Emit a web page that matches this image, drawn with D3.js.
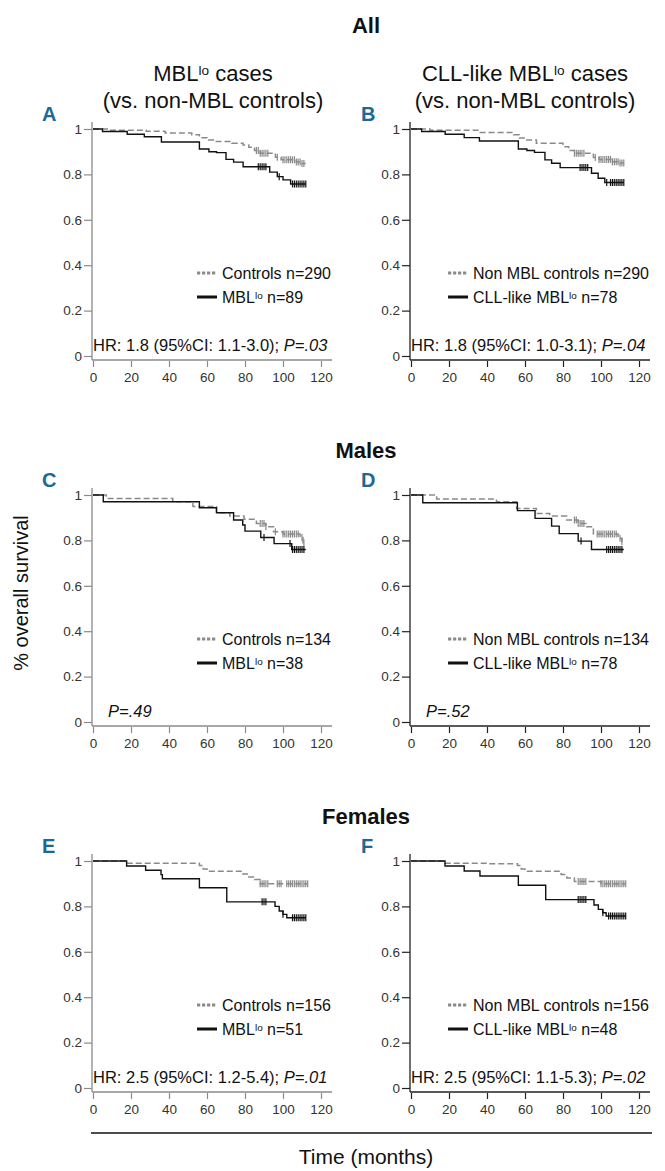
<!DOCTYPE html>
<html><head><meta charset="utf-8">
<script src="https://cdn.jsdelivr.net/npm/d3@7"></script>
<style>
body{margin:0;background:#fff}
svg{display:block}
text{font-family:"Liberation Sans",Arial,sans-serif}
</style>
</head><body>
<svg id="chart" width="665" height="1171"></svg>
<script>
// ---------- data ----------
const timeTicks = [0, 20, 40, 60, 80, 100, 120];
const survTicks = [0, 0.2, 0.4, 0.6, 0.8, 1];
const panelLetters = ["A", "B", "C", "D", "E", "F"];
const groupTitles = ["All", "Males", "Females"];
const columnTitles = [["MBL^lo cases", "(vs. non-MBL controls)"], ["CLL-like MBL^lo cases", "(vs. non-MBL controls)"]];
const ctrlLegend = ["Controls n=290", "Non MBL controls n=290", "Controls n=134", "Non MBL controls n=134", "Controls n=156", "Non MBL controls n=156"];
const caseLegend = ["MBL^lo n=89", "CLL-like MBL^lo n=78", "MBL^lo n=38", "CLL-like MBL^lo n=78", "MBL^lo n=51", "CLL-like MBL^lo n=48"];
const statPlain = ["HR: 1.8 (95%CI: 1.1-3.0); ", "HR: 1.8 (95%CI: 1.0-3.1); ", "", "", "HR: 2.5 (95%CI: 1.2-5.4); ", "HR: 2.5 (95%CI: 1.1-5.3); "];
const statItalic = ["P=.03", "P=.04", "P=.49", "P=.52", "P=.01", "P=.02"];
const yAxisTitle = "% overall survival";
const xAxisTitle = "Time (months)";

// survival steps [time, survival]
const caseA = [[0,1],[5,0.989],[18,0.977],[27,0.966],[36,0.943],[56,0.912],[61,0.900],[65,0.896],[70,0.866],[74,0.854],[79,0.834],[93,0.81],[97,0.79],[100,0.776],[104,0.758],[112,0.758]];
const ctrlA = [[0,1],[8,0.995],[28,0.99],[38,0.982],[52,0.975],[56,0.962],[60,0.952],[64,0.945],[73,0.937],[79,0.93],[82,0.92],[85,0.905],[88,0.893],[96,0.876],[99,0.864],[107,0.855],[110,0.848],[112,0.848]];
const caseB = [[0,1],[5.6,0.989],[18,0.977],[28,0.962],[36,0.947],[56.5,0.912],[61,0.905],[65,0.897],[70.5,0.864],[74,0.849],[78.5,0.83],[95,0.805],[98.5,0.783],[102,0.764],[112,0.764]];
const ctrlB = [[0,1],[10,0.994],[36,0.985],[54,0.975],[57,0.96],[60,0.952],[66,0.937],[80,0.922],[83,0.905],[86,0.893],[96,0.875],[99,0.866],[106,0.856],[110,0.85],[112,0.85]];
const caseC = [[0,1],[5.4,0.97],[56,0.944],[65,0.922],[74,0.89],[78.8,0.868],[80,0.841],[88.3,0.813],[95.3,0.786],[104.6,0.76],[112,0.76]];
const ctrlC = [[0,1],[7,0.985],[42,0.97],[52.6,0.949],[65,0.922],[72,0.907],[79.5,0.893],[86,0.875],[91,0.86],[95,0.838],[100,0.828],[109,0.813],[110.5,0.79],[112,0.79]];
const caseD = [[0,1],[6.2,0.966],[56,0.931],[65.3,0.897],[74,0.863],[78,0.83],[88,0.797],[95,0.76],[112,0.76]];
const ctrlD = [[0,1],[13.5,0.982],[45,0.97],[55.6,0.941],[66,0.919],[73,0.907],[82,0.89],[88,0.875],[92.5,0.86],[96,0.828],[109,0.81],[111,0.795],[112,0.795]];
const caseE = [[0,1],[17.7,0.978],[27.7,0.959],[35.8,0.94],[36.5,0.922],[56,0.882],[70.4,0.82],[95.8,0.80],[98,0.78],[100,0.765],[102,0.75],[112,0.75]];
const ctrlE = [[0,1],[17.7,0.99],[56,0.98],[58,0.965],[60,0.955],[79,0.943],[82,0.93],[85,0.918],[88,0.9],[113,0.9]];
const caseF = [[0,1],[17.9,0.978],[28,0.956],[36.3,0.934],[56.5,0.893],[70.9,0.83],[96.3,0.806],[98.6,0.787],[100.9,0.772],[102.7,0.758],[113,0.758]];
const ctrlF = [[0,1],[17.9,0.99],[40,0.988],[56,0.98],[58,0.965],[60,0.955],[79,0.94],[82,0.925],[86,0.91],[100,0.9],[113,0.9]];

// censoring times
const caseCensA = [87,88,89,90,91,98,105,106,107,108,109,110,111,112];
const ctrlCensA = [86,87,88,89,90,91,92,97,100,101,102,103,104,105,106,107,108,109,110,111];
const caseCensB = [89,90,91,92,93,103,105,106,107,108,109,110,111,112];
const ctrlCensB = [86,87,88,89,90,91,97,99,100,101,102,103,104,105,106,107,108,109,110,111,112];
const caseCensC = [90,103.7,105,106,107,108,109,110,111];
const ctrlCensC = [88,89,90,91,96,100,101,102,103,104,105,106,107,108,110,111];
const caseCensD = [89.5,103,104,105,106,107,108,109,110,111];
const ctrlCensD = [86,87,88,89,90,91,98,99,100,101,102,103,104,105,106,107,108,110,111];
const caseCensE = [89,90,91,100,105,106,107,108,109,110,111,112];
const ctrlCensE = [88,89,90,91,92,97,98,99,102,103,104,105,106,107,108,109,110,111,112,113];
const caseCensF = [88,89,90,91,92,101,104,105,106,107,108,109,110,111,112,113];
const ctrlCensF = [88,89,90,91,92,100,101,102,103,104,105,106,107,108,109,110,111,112,113];

const panelCase = [caseA, caseB, caseC, caseD, caseE, caseF];
const panelCtrl = [ctrlA, ctrlB, ctrlC, ctrlD, ctrlE, ctrlF];
const panelCaseCens = [caseCensA, caseCensB, caseCensC, caseCensD, caseCensE, caseCensF];
const panelCtrlCens = [ctrlCensA, ctrlCensB, ctrlCensC, ctrlCensD, ctrlCensE, ctrlCensF];

// ---------- layout ----------
const colX0 = [93, 411];
const plotW = 228;
const rowY1 = [129, 495, 861];
const plotH = 227;
const groupTitleY = [33, 458, 824];
const colCenter = [213, 525];
const letterColor = "#1d6896";
const grayLine = "#8a8a8a";
const axisColors = ["#8a8a8a", "#222"];

const svg = d3.select("#chart");

function rich(sel, str) {
  const parts = str.split(/\^(\w+)/);
  parts.forEach((p, i) => {
    if (!p) return;
    if (i % 2 === 1) {
      sel.append("tspan").attr("font-size", "62%").attr("dy", "-0.45em").text(p);
    } else {
      const t = sel.append("tspan").text(p);
      if (i > 0) t.attr("dy", "0.28em");
    }
  });
  return sel;
}

function valueAt(steps, t) {
  let v = steps[0][1];
  for (const s of steps) { if (s[0] <= t) v = s[1]; }
  return v;
}

// group titles
groupTitles.forEach((g, r) => {
  svg.append("text").attr("x", 366).attr("y", groupTitleY[r])
    .attr("text-anchor", "middle").attr("font-size", 22).attr("font-weight", "bold")
    .attr("fill", "#111").text(g);
});
// column titles
columnTitles.forEach((ct, c) => {
  rich(svg.append("text").attr("x", colCenter[c]).attr("y", 81).attr("text-anchor", "middle")
    .attr("font-size", 22).attr("fill", "#111"), ct[0]);
  svg.append("text").attr("x", colCenter[c]).attr("y", 108).attr("text-anchor", "middle")
    .attr("font-size", 22).attr("fill", "#111").text(ct[1]);
});

for (let p = 0; p < 6; p++) {
  const r = Math.floor(p / 2), c = p % 2;
  const x0 = colX0[c], y1 = rowY1[r], y0 = y1 + plotH;
  const x = d3.scaleLinear().domain([0, 120]).range([x0, x0 + plotW]);
  const y = d3.scaleLinear().domain([0, 1]).range([y0, y1]);
  const ac = axisColors[c];
  const g = svg.append("g");

  // panel letter
  g.append("text").attr("x", c === 0 ? 42 : 361).attr("y", y1 - 8)
    .attr("font-family", "'Liberation Sans Narrow','DejaVu Sans Condensed',sans-serif")
    .attr("font-weight", "bold").attr("font-size", 20).attr("fill", letterColor).text(panelLetters[p]);

  // y axis
  const ya = g.append("g").attr("transform", `translate(${x0 - 1},0)`)
    .call(d3.axisLeft(y).tickValues(survTicks).tickFormat(d3.format("")).tickSize(8).tickPadding(2));
  ya.select(".domain").remove();
  ya.selectAll("line").attr("stroke", ac).attr("stroke-width", 1.2);
  ya.selectAll("text").attr("fill", "#333").attr("font-size", 13.5).attr("font-family", "'Liberation Sans',Arial,sans-serif");
  g.append("line").attr("x1", x0 - 1).attr("x2", x0 - 1).attr("y1", y1 - 7).attr("y2", y0 + 4)
    .attr("stroke", ac).attr("stroke-width", 1.3);

  // x axis
  const xa = g.append("g").attr("transform", `translate(0,${y0 + 5})`)
    .call(d3.axisBottom(x).tickValues(timeTicks).tickSize(6).tickPadding(5));
  xa.select(".domain").remove();
  xa.selectAll("line").attr("stroke", ac).attr("stroke-width", 1.2);
  xa.selectAll("text").attr("fill", "#333").attr("font-size", 13.5).attr("font-family", "'Liberation Sans',Arial,sans-serif");
  g.append("line").attr("x1", x0 - 1).attr("x2", x(120) + 11).attr("y1", y0 + 4).attr("y2", y0 + 4)
    .attr("stroke", ac).attr("stroke-width", 1.3);

  const line = d3.line().x(d => x(d[0])).y(d => y(d[1])).curve(d3.curveStepAfter);

  // controls
  g.append("path").datum(panelCtrl[p]).attr("d", line).attr("fill", "none")
    .attr("stroke", grayLine).attr("stroke-width", 1.5).attr("stroke-dasharray", "6,3");
  g.selectAll(".cc").data(panelCtrlCens[p]).enter().append("line")
    .attr("x1", d => x(d)).attr("x2", d => x(d))
    .attr("y1", d => y(valueAt(panelCtrl[p], d)) - 3.5).attr("y2", d => y(valueAt(panelCtrl[p], d)) + 3.5)
    .attr("stroke", grayLine).attr("stroke-width", 1.2);

  // cases
  g.append("path").datum(panelCase[p]).attr("d", line).attr("fill", "none")
    .attr("stroke", "#111").attr("stroke-width", 1.4);
  g.selectAll(".kc").data(panelCaseCens[p]).enter().append("line")
    .attr("x1", d => x(d)).attr("x2", d => x(d))
    .attr("y1", d => y(valueAt(panelCase[p], d)) - 3.5).attr("y2", d => y(valueAt(panelCase[p], d)) + 3.5)
    .attr("stroke", "#111").attr("stroke-width", 1.2);

  // legend
  const lg = g.append("g");
  const t1 = lg.append("text").attr("y", y0 - 77).attr("font-size", 16).attr("fill", "#111").text(ctrlLegend[p]);
  const t2 = rich(lg.append("text").attr("y", y0 - 53).attr("font-size", 16).attr("fill", "#111"), caseLegend[p]);
  const w = Math.max(t1.node().getComputedTextLength(), t2.node().getComputedTextLength());
  const left = x(120) + 10 - w;
  t1.attr("x", left); t2.attr("x", left);
  lg.append("line").attr("x1", left - 25).attr("x2", left - 5).attr("y1", y0 - 83).attr("y2", y0 - 83)
    .attr("stroke", grayLine).attr("stroke-width", 3).attr("stroke-dasharray", "3.2,1.8");
  lg.append("line").attr("x1", left - 25).attr("x2", left - 5).attr("y1", y0 - 59).attr("y2", y0 - 59)
    .attr("stroke", "#111").attr("stroke-width", 3);

  // statistics
  const st = g.append("text").attr("x", statPlain[p] ? x0 : x0 + 15).attr("y", y0 - 5)
    .attr("font-size", 16.5).attr("fill", "#111");
  if (statPlain[p]) st.append("tspan").text(statPlain[p]);
  st.append("tspan").attr("font-style", "italic").text(statItalic[p]);
}

// y axis title
svg.append("text").attr("transform", "translate(28,593) rotate(-90)").attr("text-anchor", "middle")
  .attr("font-size", 20).attr("fill", "#111").text(yAxisTitle);
// bottom rule and x title
svg.append("line").attr("x1", 91).attr("x2", 652).attr("y1", 1133).attr("y2", 1133)
  .attr("stroke", "#111").attr("stroke-width", 1.3);
svg.append("text").attr("x", 366).attr("y", 1164).attr("text-anchor", "middle")
  .attr("font-size", 21).attr("fill", "#111").text(xAxisTitle);
</script>
</body></html>
